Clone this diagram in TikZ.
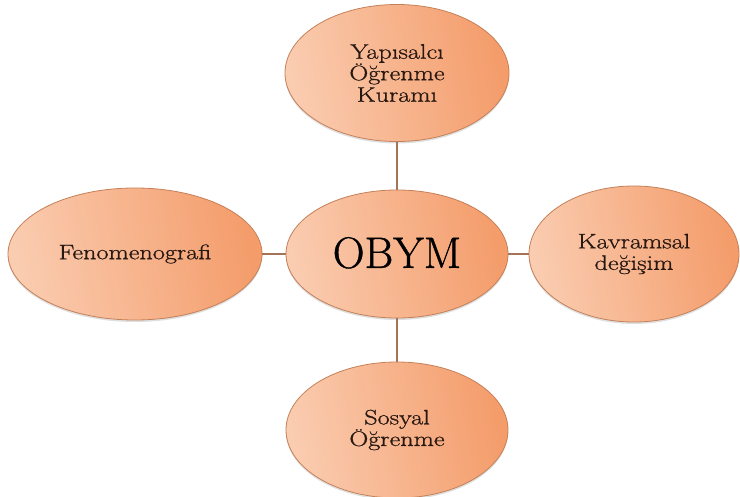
\documentclass[tikz,border=0pt]{standalone}
\usepackage{fontspec}
\setmainfont{Latin Modern Roman}
\newfontfamily\widefont{Latin Modern Roman}[FakeStretch=1.25,FakeBold=0.9]
\newfontfamily\bigfont{Latin Modern Roman}[FakeBold=0.9]
\usetikzlibrary{shapes.geometric,shadows}
\definecolor{peachL}{RGB}{250,204,176}
\definecolor{peachR}{RGB}{244,156,106}
\definecolor{rimc}{RGB}{196,128,88}
\definecolor{linkc}{RGB}{165,115,85}
\definecolor{inkc}{RGB}{40,24,18}
\begin{document}
\begin{tikzpicture}[x=1pt,y=-1pt,
  bubble/.style={ellipse, draw=rimc, line width=0.8pt, inner sep=0pt,
    left color=peachL, right color=peachR, shading angle=100,
    drop shadow={shadow xshift=0pt, shadow yshift=-2pt, opacity=0.25},
    align=center, text=inkc, font=\widefont\fontsize{21}{21.5}\selectfont},
  link/.style={draw=linkc, line width=1.2pt}]
\useasboundingbox (0,0) rectangle (740,497);
\node[bubble, minimum width=224pt, minimum height=137pt] (top) at (397,73) {Yapısalcı\\Öğrenme\\Kuramı};
\node[bubble, minimum width=222pt, minimum height=128pt, text=black, font=\bigfont\fontsize{44}{44}\selectfont] (c) at (397,254) {\raisebox{3pt}{OBYM}};
\node[bubble, minimum width=254pt, minimum height=132pt] (lft) at (135,254) {Fenomenografi};
\node[bubble, minimum width=210pt, minimum height=136pt] (rgt) at (634,254) {Kavramsal\\değişim};
\node[bubble, minimum width=222pt, minimum height=136pt] (bot) at (397,430) {Sosyal\\Öğrenme};
\draw[link] (top) -- (c);
\draw[link] (c) -- (bot);
\draw[link] (lft) -- (c);
\draw[link] (c) -- (rgt);
\end{tikzpicture}
\end{document}
